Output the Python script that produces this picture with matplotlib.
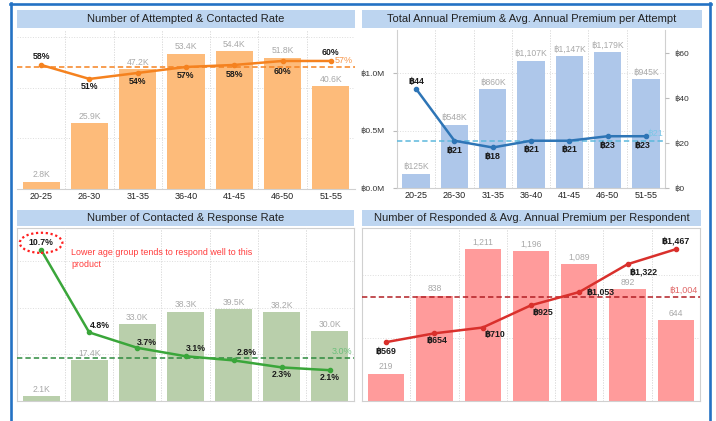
import matplotlib
matplotlib.use('Agg')
import matplotlib.pyplot as plt
from matplotlib.patches import Rectangle
from matplotlib.lines import Line2D
import matplotlib.transforms as mtransforms

plt.rcParams['font.family'] = ['Liberation Sans', 'DejaVu Sans', 'Noto Sans CJK SC']

# ---------------- data ----------------
age_groups = ['20-25', '26-30', '31-35', '36-40', '41-45', '46-50', '51-55']

attempted_k = [2.8, 25.9, 47.2, 53.4, 54.4, 51.8, 40.6]
contact_rate = [58, 51, 54, 57, 58, 60, 60]
contact_rate_avg = 57

total_premium_k = [125, 548, 860, 1107, 1147, 1179, 945]
premium_per_attempt = [44, 21, 18, 21, 21, 23, 23]
premium_per_attempt_avg = 21

contacted_k = [2.1, 17.4, 33.0, 38.3, 39.5, 38.2, 30.0]
response_rate = [10.7, 4.8, 3.7, 3.1, 2.8, 2.3, 2.1]
response_rate_avg = 3.0

responded = [219, 838, 1211, 1196, 1089, 892, 644]
premium_per_respondent = [569, 654, 710, 925, 1053, 1322, 1467]
premium_per_respondent_avg = 1004

titles = ['Number of Attempted & Contacted Rate',
          'Total Annual Premium & Avg. Annual Premium per Attempt',
          'Number of Contacted & Response Rate',
          'Number of Responded & Avg. Annual Premium per Respondent']
note_text = 'Lower age group tends to respond well to this\nproduct'

# ---------------- figure ----------------
W, H = 716, 421
fig = plt.figure(figsize=(W / 100, H / 100), dpi=100)
fig.patch.set_facecolor('white')


def fx(x):
    return x / W


def fy(y):
    return 1 - y / H


def add_ax(x0, y0, x1, y1):
    return fig.add_axes([fx(x0), fy(y1), (x1 - x0) / W, (y1 - y0) / H])


def title_bar(x0, y0, x1, y1, text):
    fig.patches.append(Rectangle((fx(x0), fy(y1)), (x1 - x0) / W, (y1 - y0) / H,
                                 transform=fig.transFigure, facecolor='#BDD5F0',
                                 edgecolor='none', zorder=0))
    fig.text(fx((x0 + x1) / 2), fy((y0 + y1) / 2), text, ha='center', va='center',
             fontsize=8, color='#222222')


# blue frame
BLUE = '#2472C4'
for xs, ys in [((10, 711), (3.8, 3.8)), ((11, 11), (3, 421)), ((709.5, 709.5), (3, 421))]:
    fig.add_artist(Line2D([fx(xs[0]), fx(xs[1])], [fy(ys[0]), fy(ys[1])],
                          transform=fig.transFigure, color=BLUE, lw=1.9))

GRID = '#DDDDDD'
BARLBL = '#A8A8A8'
x = list(range(len(age_groups)))


def base_style(ax, frame=False):
    ax.set_xlim(-0.5, len(age_groups) - 0.5)
    for s in ['top', 'right', 'left', 'bottom']:
        ax.spines[s].set_visible(frame)
        ax.spines[s].set_color('#D0D0D0')
        ax.spines[s].set_linewidth(0.8)
    for xv in range(len(age_groups) - 1):
        ax.axvline(xv + 0.5, color=GRID, lw=0.7, ls=':', zorder=0)
    ax.tick_params(axis='both', length=0, labelsize=6.5, colors='#222222', pad=2)
    ax.set_yticks([])


def bar_labels(ax, vals, fmt):
    for xi, v in zip(x, vals):
        ax.annotate(fmt(v), (xi, v), xytext=(0, 7), textcoords='offset pixels',
                    ha='center', va='center', fontsize=6.2, color=BARLBL)


def line_labels(ax, vals, fmt, offsets):
    for xi, v, (dx, dy) in zip(x, vals, offsets):
        ax.annotate(fmt(v), (xi, v), xytext=(dx, dy), textcoords='offset pixels',
                    ha='center', va='center', fontsize=6.3, color='#1A1A1A',
                    fontweight='bold', zorder=6)


def ref_line(ax, val, lcolor, tcolor, text, dy=6):
    ax.axhline(val, color=lcolor, lw=1.1, ls=(0, (3.5, 2)), zorder=4)
    tr = mtransforms.blended_transform_factory(ax.transAxes, ax.transData)
    ax.annotate(text, (1, val), xycoords=tr, xytext=(-2, dy), textcoords='offset pixels',
                ha='right', va='center', fontsize=6.5, color=tcolor)


# ---------------- panel 1 ----------------
title_bar(17, 10, 355, 28, titles[0])
ax1 = add_ax(17, 30, 355, 189)
base_style(ax1)
ax1.spines['bottom'].set_visible(True)
ax1.set_ylim(0, 62.7)
for g in [20, 40, 60]:
    ax1.axhline(g, color=GRID, lw=0.7, ls=':', zorder=0)
ax1.bar(x, attempted_k, width=0.77, color='#FDBB7A', zorder=2)
bar_labels(ax1, attempted_k, lambda v: f'{v:.1f}K')
ax1.set_xticks(x)
ax1.set_xticklabels(age_groups)
ax1b = ax1.twinx()
base_style(ax1b)
ax1b.set_ylim(-4.1, 75.5)
ref_line(ax1b, contact_rate_avg, '#F58220', '#F7964A', f'{contact_rate_avg}%', dy=6)
ax1b.plot(x, contact_rate, color='#F5821F', lw=1.8, marker='o', ms=3, zorder=5)
line_labels(ax1b, contact_rate, lambda v: f'{v}%',
            [(0, 8), (0, -8), (0, -9), (0, -9), (0, -10), (0, -11), (0, 8)])

# ---------------- panel 2 ----------------
title_bar(362, 10, 702, 28, titles[1])
ax2 = add_ax(397, 30, 665, 188)
base_style(ax2)
for s in ['left', 'right', 'bottom']:
    ax2.spines[s].set_visible(True)
ax2.set_ylim(0, 1374)
for g in [500, 1000]:
    ax2.axhline(g, color=GRID, lw=0.7, ls=':', zorder=0)
ax2.bar(x, total_premium_k, width=0.72, color='#AEC7EA', zorder=2)
bar_labels(ax2, total_premium_k, lambda v: f'฿{v:,}K')
ax2.set_xticks(x)
ax2.set_xticklabels(age_groups)
ax2.set_yticks([0, 500, 1000])
ax2.set_yticklabels(['฿0.0M', '฿0.5M', '฿1.0M'])
ax2.tick_params(axis='y', length=3, color='#BBBBBB', labelsize=6, pad=6, labelcolor='#333333')
ax2b = ax2.twinx()
base_style(ax2b)
ax2b.set_ylim(0, 70.2)
ax2b.set_yticks([0, 20, 40, 60])
ax2b.set_yticklabels(['฿0', '฿20', '฿40', '฿60'])
ax2b.tick_params(axis='y', length=3, color='#BBBBBB', labelsize=6, pad=4, labelcolor='#333333')
ref_line(ax2b, premium_per_attempt_avg, '#5DB8DC', '#7CC6E6', f'฿{premium_per_attempt_avg}', dy=7)
ax2b.plot(x, premium_per_attempt, color='#2E75B6', lw=1.8, marker='o', ms=3, zorder=5)
line_labels(ax2b, premium_per_attempt, lambda v: f'฿{v}',
            [(0, 7), (0, -10), (0, -9), (0, -9), (0, -9), (0, -9), (-3, -9)])

# ---------------- panel 3 ----------------
title_bar(17, 210, 354, 226, titles[2])
ax3 = add_ax(17, 228, 354, 401)
base_style(ax3, frame=True)
ax3.set_ylim(0, 74.3)
for g in [20, 40, 60]:
    ax3.axhline(g, color=GRID, lw=0.7, ls=':', zorder=0)
ax3.bar(x, contacted_k, width=0.77, color='#B9CFAB', zorder=2)
bar_labels(ax3, contacted_k, lambda v: f'{v:.1f}K')
ax3.set_xticks([])
ax3b = ax3.twinx()
base_style(ax3b)
ax3b.set_ylim(-0.1, 12.26)
ref_line(ax3b, response_rate_avg, '#2E8B3E', '#6CBF7B', f'{response_rate_avg:.1f}%', dy=6)
ax3b.plot(x, response_rate, color='#3AA63A', lw=1.8, marker='o', ms=3, zorder=5)
offs3 = [(0, 7), (11, 7), (10, 5), (10, 8), (13, 8), (0, -7), (0, -7)]
for i, (xi, v, (dx, dy)) in enumerate(zip(x, response_rate, offs3)):
    kw = {}
    if i == 0:
        kw['bbox'] = dict(boxstyle='ellipse,pad=0.3', fc='none', ec='#FF2020',
                          ls=(0, (1, 1.2)), lw=1.6)
    ax3b.annotate(f'{v:.1f}%', (xi, v), xytext=(dx, dy), textcoords='offset pixels',
                  ha='center', va='center', fontsize=6.3, color='#1A1A1A',
                  fontweight='bold', zorder=6, **kw)
ax3b.annotate(note_text, (x[0], response_rate[0]), xytext=(30, 2),
              textcoords='offset pixels', ha='left', va='top', fontsize=6.4,
              color='#FF3B3B', linespacing=1.5)

# ---------------- panel 4 ----------------
title_bar(362, 210, 701, 226, titles[3])
ax4 = add_ax(362, 228, 700, 401)
base_style(ax4, frame=True)
ax4.set_ylim(0, 1378)
for g in [500, 1000]:
    ax4.axhline(g, color=GRID, lw=0.7, ls=':', zorder=0)
ax4.bar(x, responded, width=0.75, color='#FF9B9B', zorder=2)
bar_labels(ax4, responded, lambda v: f'{v:,}')
ax4.set_xticks([])
ax4b = ax4.twinx()
base_style(ax4b)
ax4b.set_ylim(0, 1672)
ref_line(ax4b, premium_per_respondent_avg, '#B21F24', '#E06666',
         f'฿{premium_per_respondent_avg:,}', dy=7)
ax4b.plot(x, premium_per_respondent, color='#D9302C', lw=1.8, marker='o', ms=3, zorder=5)
line_labels(ax4b, premium_per_respondent, lambda v: f'฿{v:,}',
            [(0, -9), (3, -7), (12, -7), (12, -7), (21, 0), (16, -8), (0, 8)])

fig.savefig('out.png', dpi=100, facecolor='white')
